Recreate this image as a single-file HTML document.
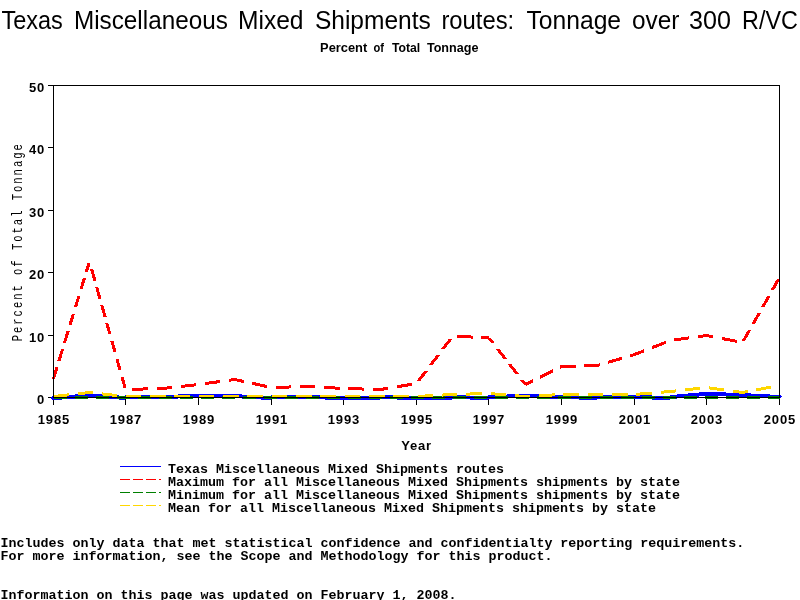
<!DOCTYPE html>
<html lang="en"><head><meta charset="utf-8"><title>Texas Miscellaneous Mixed Shipments routes: Tonnage over 300 R/VC</title>
<style>
html,body{margin:0;padding:0;background:#fff;}
body{width:800px;height:600px;overflow:hidden;}
svg{display:block;}
text{fill:#000;}
.title{font-family:"Liberation Sans",sans-serif;font-size:26.5px;}
.sub{font-family:"Liberation Sans",sans-serif;font-size:12px;font-weight:bold;}
.tick{font-family:"Liberation Sans",sans-serif;font-size:13px;font-weight:bold;}
.mono{font-family:"Liberation Mono",monospace;font-size:13.333px;font-weight:bold;}
.ylab{font-family:"Liberation Mono",monospace;font-size:14px;}
</style></head><body>
<svg width="800" height="600" viewBox="0 0 800 600">
<rect width="800" height="600" fill="#fff"/>
<text class="title" y="29"><tspan x="1.47" textLength="61.35" lengthAdjust="spacingAndGlyphs">Texas</tspan> <tspan x="73.98" textLength="153.85" lengthAdjust="spacingAndGlyphs">Miscellaneous</tspan> <tspan x="237.96" textLength="65.61" lengthAdjust="spacingAndGlyphs">Mixed</tspan> <tspan x="314.89" textLength="115.94" lengthAdjust="spacingAndGlyphs">Shipments</tspan> <tspan x="441.38" textLength="72.78" lengthAdjust="spacingAndGlyphs">routes:</tspan> <tspan x="526.44" textLength="94.65" lengthAdjust="spacingAndGlyphs">Tonnage</tspan> <tspan x="631.99" textLength="47.43" lengthAdjust="spacingAndGlyphs">over</tspan> <tspan x="689.05" textLength="41.91" lengthAdjust="spacingAndGlyphs">300</tspan> <tspan x="742.06" textLength="55.83" lengthAdjust="spacingAndGlyphs">R/VC</tspan></text>
<text class="sub" y="52"><tspan x="320.14" textLength="47.09" lengthAdjust="spacingAndGlyphs">Percent</tspan> <tspan x="373.54" textLength="10.49" lengthAdjust="spacingAndGlyphs">of</tspan> <tspan x="391.90" textLength="28.29" lengthAdjust="spacingAndGlyphs">Total</tspan> <tspan x="426.90" textLength="51.53" lengthAdjust="spacingAndGlyphs">Tonnage</tspan></text>
<g shape-rendering="crispEdges">
<path fill="none" stroke="#000" stroke-width="1" d="M48 397.5 H53 M48 335.5 H53 M48 272.5 H53 M48 210.5 H53 M48 147.5 H53 M48 85.5 H53 M53.5 398 V405 M125.5 398 V405 M198.5 398 V405 M271.5 398 V405 M343.5 398 V405 M416.5 398 V405 M488.5 398 V405 M561.5 398 V405 M634.5 398 V405 M706.5 398 V405 M779.5 398 V405 "/>
<path fill="#0000ff" d="M53.00 396.20 L89.00 393.45 L89.00 397.45 L53.00 400.20Z M89.00 393.45 L125.00 395.90 L125.00 399.90 L89.00 397.45Z M125.00 395.00 L162.00 395.00 L162.00 399.00 L125.00 399.00Z M162.00 395.00 L198.00 393.90 L198.00 397.90 L162.00 399.00Z M198.00 393.90 L234.00 393.90 L234.00 397.90 L198.00 397.90Z M234.00 394.06 L271.00 396.06 L271.00 400.06 L234.00 398.06Z M271.00 395.00 L307.00 395.00 L307.00 399.00 L271.00 399.00Z M307.00 395.00 L343.00 396.03 L343.00 400.03 L307.00 399.00Z M343.00 396.00 L380.00 396.00 L380.00 400.00 L343.00 400.00Z M380.00 395.00 L416.00 396.06 L416.00 400.06 L380.00 399.00Z M416.00 396.00 L452.00 396.00 L452.00 400.00 L416.00 400.00Z M452.00 395.00 L488.00 396.00 L488.00 400.00 L452.00 399.00Z M488.00 395.30 L525.00 393.74 L525.00 397.74 L488.00 399.30Z M525.00 394.00 L561.00 395.00 L561.00 399.00 L525.00 398.00Z M561.00 395.00 L597.00 396.00 L597.00 400.00 L561.00 399.00Z M597.00 395.00 L634.00 395.00 L634.00 399.00 L597.00 399.00Z M634.00 395.00 L670.00 396.00 L670.00 400.00 L634.00 399.00Z M670.00 395.10 L706.00 391.86 L706.00 395.86 L670.00 399.10Z M706.00 391.90 L742.00 393.00 L742.00 397.00 L706.00 395.90Z M742.00 393.00 L780.00 395.05 L780.00 399.05 L742.00 397.00Z M52.00 396.00 L53.00 396.00 L53.00 400.00 L52.00 400.00Z M51.00 397.00 L52.00 397.00 L52.00 399.00 L51.00 399.00Z M780.00 395.00 L781.00 395.00 L781.00 398.00 L780.00 398.00Z M781.00 396.00 L782.00 396.00 L782.00 397.00 L781.00 397.00Z"/>
<path fill="#ff0000" d="M51.93 378.50 L55.07 378.50 L58.57 367.13 L55.43 367.13Z M57.42 360.67 L60.55 360.67 L64.05 349.31 L60.91 349.31Z M62.90 342.84 L66.04 342.84 L69.54 331.48 L66.40 331.48Z M68.39 325.02 L71.53 325.02 L75.02 313.65 L71.88 313.65Z M73.87 307.19 L77.01 307.19 L80.51 295.82 L77.37 295.82Z M79.36 289.36 L82.50 289.36 L85.99 277.99 L82.86 277.99Z M84.84 271.53 L87.98 271.53 L91.07 261.50 L87.93 261.50Z M87.94 261.50 L91.06 261.50 L91.43 262.84 L88.32 262.84Z M90.14 269.33 L93.26 269.33 L96.47 280.74 L93.35 280.74Z M95.18 287.23 L98.30 287.23 L101.51 298.65 L98.39 298.65Z M100.21 305.13 L103.33 305.13 L106.54 316.55 L103.42 316.55Z M105.25 323.04 L108.37 323.04 L111.58 334.45 L108.46 334.45Z M110.28 340.94 L113.40 340.94 L116.61 352.36 L113.49 352.36Z M115.32 358.84 L118.44 358.84 L121.65 370.26 L118.53 370.26Z M120.36 376.75 L123.47 376.75 L126.68 388.16 L123.57 388.16Z M132.48 387.81 L147.95 387.39 L147.95 390.39 L132.48 390.81Z M156.74 387.16 L162.50 387.00 L162.50 390.00 L156.74 390.16Z M162.50 386.99 L172.12 385.92 L172.12 388.94 L162.50 390.01Z M180.82 384.95 L196.14 383.25 L196.14 386.27 L180.82 387.97Z M204.81 382.11 L220.03 380.00 L220.03 383.02 L204.81 385.14Z M228.68 378.79 L234.50 377.99 L234.50 381.01 L228.68 381.82Z M234.50 377.97 L243.69 379.95 L243.69 383.02 L234.50 381.03Z M252.15 381.78 L267.03 385.00 L267.03 388.07 L252.15 384.85Z M275.65 385.88 L291.12 385.45 L291.12 388.46 L275.65 388.89Z M299.91 385.21 L307.50 385.00 L307.50 388.00 L299.91 388.21Z M307.50 385.00 L315.37 385.43 L315.37 388.44 L307.50 388.00Z M324.14 385.92 L339.58 386.78 L339.58 389.78 L324.14 388.93Z M348.37 387.13 L363.84 387.55 L363.84 390.55 L348.37 390.13Z M372.63 387.79 L380.50 388.00 L380.50 391.00 L372.63 390.79Z M380.50 387.98 L387.93 386.74 L387.93 389.78 L380.50 391.02Z M396.52 385.31 L411.64 382.79 L411.64 385.83 L396.52 388.35Z M416.52 381.01 L420.30 381.01 L428.04 370.90 L424.26 370.90Z M428.66 365.16 L432.44 365.16 L440.18 355.05 L436.40 355.05Z M440.80 349.31 L444.58 349.31 L452.32 339.20 L448.54 339.20Z M457.15 335.13 L472.62 335.56 L472.62 338.56 L457.15 338.13Z M481.42 335.80 L488.50 336.00 L488.50 339.00 L481.42 338.80Z M486.59 337.50 L490.41 337.50 L494.69 342.94 L490.87 342.94Z M495.36 348.64 L499.18 348.64 L507.08 358.68 L503.26 358.68Z M507.75 364.38 L511.57 364.38 L519.47 374.42 L515.65 374.42Z M520.14 380.12 L523.96 380.12 L527.41 384.50 L523.59 384.50Z M525.50 382.82 L532.77 379.19 L532.77 382.54 L525.50 386.18Z M540.11 375.52 L553.01 369.07 L553.01 372.42 L540.11 378.87Z M560.34 365.40 L561.50 364.82 L561.50 368.18 L560.34 368.76Z M561.50 365.00 L575.58 364.61 L575.58 367.61 L561.50 368.00Z M584.37 364.36 L597.50 364.00 L597.50 367.00 L584.37 367.37Z M597.50 363.94 L599.68 363.29 L599.68 366.42 L597.50 367.06Z M607.86 360.85 L622.27 356.57 L622.27 359.70 L607.86 363.98Z M630.45 354.14 L634.50 352.94 L634.50 356.06 L630.45 357.27Z M634.50 352.89 L644.39 349.04 L644.39 352.26 L634.50 356.11Z M652.21 346.00 L665.97 340.65 L665.97 343.87 L652.21 349.22Z M674.14 338.48 L689.36 336.37 L689.36 339.39 L674.14 341.51Z M698.02 335.16 L706.50 333.99 L706.50 337.01 L698.02 338.19Z M706.50 333.97 L713.14 335.26 L713.14 338.32 L706.50 337.03Z M721.66 336.92 L736.65 339.83 L736.65 342.89 L721.66 339.98Z M741.86 340.59 L745.31 340.59 L751.42 329.87 L747.96 329.87Z M751.43 323.77 L754.89 323.77 L760.99 313.05 L757.54 313.05Z M761.01 306.96 L764.46 306.96 L770.56 296.23 L767.11 296.23Z M770.58 290.14 L774.03 290.14 L780.14 279.41 L776.68 279.41Z"/>
<path fill="#008000" d="M53.50 396.00 L66.50 396.00 L66.50 399.00 L53.50 399.00Z M74.50 396.00 L87.50 396.00 L87.50 399.00 L74.50 399.00Z M95.50 396.00 L108.50 396.00 L108.50 399.00 L95.50 399.00Z M116.50 396.00 L125.50 396.00 L125.50 399.00 L116.50 399.00Z M125.50 396.00 L129.50 396.00 L129.50 399.00 L125.50 399.00Z M137.50 396.00 L150.50 396.00 L150.50 399.00 L137.50 399.00Z M158.50 396.00 L162.50 396.00 L162.50 399.00 L158.50 399.00Z M162.50 396.00 L171.50 396.00 L171.50 399.00 L162.50 399.00Z M179.50 396.00 L192.50 396.00 L192.50 399.00 L179.50 399.00Z M200.50 396.00 L213.50 396.00 L213.50 399.00 L200.50 399.00Z M221.50 396.00 L234.50 396.00 L234.50 399.00 L221.50 399.00Z M242.50 396.00 L255.50 396.00 L255.50 399.00 L242.50 399.00Z M263.50 396.00 L271.50 396.00 L271.50 399.00 L263.50 399.00Z M271.50 396.00 L276.50 396.00 L276.50 399.00 L271.50 399.00Z M284.50 396.00 L297.50 396.00 L297.50 399.00 L284.50 399.00Z M305.50 396.00 L307.50 396.00 L307.50 399.00 L305.50 399.00Z M307.50 396.00 L318.50 396.00 L318.50 399.00 L307.50 399.00Z M326.50 396.00 L339.50 396.00 L339.50 399.00 L326.50 399.00Z M347.50 396.00 L360.50 396.00 L360.50 399.00 L347.50 399.00Z M368.50 396.00 L380.50 396.00 L380.50 399.00 L368.50 399.00Z M380.50 396.00 L381.50 396.00 L381.50 399.00 L380.50 399.00Z M389.50 396.00 L402.50 396.00 L402.50 399.00 L389.50 399.00Z M410.50 396.00 L416.50 396.00 L416.50 399.00 L410.50 399.00Z M416.50 396.00 L423.50 396.00 L423.50 399.00 L416.50 399.00Z M431.50 396.00 L444.50 396.00 L444.50 399.00 L431.50 399.00Z M452.50 396.00 L465.50 396.00 L465.50 399.00 L452.50 399.00Z M473.50 396.00 L486.50 396.00 L486.50 399.00 L473.50 399.00Z M494.50 396.00 L507.50 396.00 L507.50 399.00 L494.50 399.00Z M515.50 396.00 L525.50 396.00 L525.50 399.00 L515.50 399.00Z M525.50 396.00 L528.50 396.00 L528.50 399.00 L525.50 399.00Z M536.50 396.00 L549.50 396.00 L549.50 399.00 L536.50 399.00Z M557.50 396.00 L561.50 396.00 L561.50 399.00 L557.50 399.00Z M561.50 396.00 L570.50 396.00 L570.50 399.00 L561.50 399.00Z M578.50 396.00 L591.50 396.00 L591.50 399.00 L578.50 399.00Z M599.50 396.00 L612.50 396.00 L612.50 399.00 L599.50 399.00Z M620.50 396.00 L633.50 396.00 L633.50 399.00 L620.50 399.00Z M641.50 396.00 L654.50 396.00 L654.50 399.00 L641.50 399.00Z M662.50 396.00 L670.50 396.00 L670.50 399.00 L662.50 399.00Z M670.50 396.00 L675.50 396.00 L675.50 399.00 L670.50 399.00Z M683.50 396.00 L696.50 396.00 L696.50 399.00 L683.50 399.00Z M704.50 396.00 L706.50 396.00 L706.50 399.00 L704.50 399.00Z M706.50 396.00 L717.50 396.00 L717.50 399.00 L706.50 399.00Z M725.50 396.00 L738.50 396.00 L738.50 399.00 L725.50 399.00Z M746.50 396.00 L759.50 396.00 L759.50 399.00 L746.50 399.00Z M767.50 396.00 L779.50 396.00 L779.50 399.00 L767.50 399.00Z"/>
<path fill="#ffd700" d="M53.50 394.99 L68.81 393.29 L68.81 396.31 L53.50 398.01Z M77.58 392.32 L89.50 390.99 L89.50 394.01 L77.58 395.33Z M89.50 390.99 L92.89 391.37 L92.89 394.39 L89.50 394.01Z M101.65 392.34 L116.97 394.04 L116.97 397.06 L101.65 395.36Z M125.73 395.00 L141.21 395.00 L141.21 398.00 L125.73 398.00Z M150.07 395.00 L162.50 395.00 L162.50 398.00 L150.07 398.00Z M162.50 395.00 L165.55 395.00 L165.55 398.00 L162.50 398.00Z M174.40 395.00 L189.88 395.00 L189.88 398.00 L174.40 398.00Z M198.74 395.00 L214.22 395.00 L214.22 398.00 L198.74 398.00Z M223.07 395.00 L234.50 395.00 L234.50 398.00 L223.07 398.00Z M234.50 395.00 L238.55 395.00 L238.55 398.00 L234.50 398.00Z M247.41 395.00 L262.89 395.00 L262.89 398.00 L247.41 398.00Z M271.75 395.00 L287.23 395.00 L287.23 398.00 L271.75 398.00Z M296.08 395.00 L307.50 395.00 L307.50 398.00 L296.08 398.00Z M307.50 395.00 L311.56 395.00 L311.56 398.00 L307.50 398.00Z M320.42 395.00 L335.90 395.00 L335.90 398.00 L320.42 398.00Z M344.75 395.00 L360.23 395.00 L360.23 398.00 L344.75 398.00Z M369.09 395.00 L380.50 395.00 L380.50 398.00 L369.09 398.00Z M380.50 395.00 L384.57 395.00 L384.57 398.00 L380.50 398.00Z M393.43 395.00 L408.91 395.00 L408.91 398.00 L393.43 398.00Z M417.76 394.93 L433.20 394.07 L433.20 397.07 L417.76 397.93Z M442.03 393.58 L452.50 393.00 L452.50 396.00 L442.03 396.58Z M452.50 393.00 L457.48 392.86 L457.48 395.86 L452.50 396.00Z M466.33 392.62 L481.80 392.19 L481.80 395.19 L466.33 395.62Z M490.64 392.17 L506.03 393.42 L506.03 396.43 L490.64 395.18Z M514.83 394.13 L525.50 395.00 L525.50 398.00 L514.83 397.14Z M525.50 395.00 L530.24 394.73 L530.24 397.74 L525.50 398.00Z M539.07 394.24 L554.51 393.39 L554.51 396.39 L539.07 397.25Z M563.34 393.00 L578.82 393.00 L578.82 396.00 L563.34 396.00Z M587.68 393.00 L597.50 393.00 L597.50 396.00 L587.68 396.00Z M597.50 393.00 L603.16 393.00 L603.16 396.00 L597.50 396.00Z M612.02 393.00 L627.50 393.00 L627.50 396.00 L612.02 396.00Z M636.34 392.84 L651.73 391.56 L651.73 394.57 L636.34 395.85Z M660.53 390.83 L670.50 389.99 L670.50 393.01 L660.53 393.84Z M670.50 389.99 L675.89 389.39 L675.89 392.41 L670.50 393.01Z M684.65 388.42 L699.97 386.72 L699.97 389.74 L684.65 391.44Z M708.72 386.29 L723.94 388.41 L723.94 391.44 L708.72 389.32Z M732.65 389.62 L742.50 390.99 L742.50 394.01 L732.65 392.65Z M742.50 390.97 L747.80 389.97 L747.80 393.02 L742.50 394.03Z M756.39 388.35 L771.40 385.51 L771.40 388.56 L756.39 391.40Z"/>
<path fill="none" stroke="#000" stroke-width="1" d="M53.5 85.5 H779.5 V397.5 H53.5 Z"/>
<path fill="none" stroke="#0000ff" d="M120 466.5 H161"/>
<path fill="none" stroke="#ff0000" stroke-dasharray="10 3" d="M120 479.5 H161"/>
<path fill="none" stroke="#008000" stroke-dasharray="10 3" d="M120 492.5 H161"/>
<path fill="none" stroke="#ffd700" stroke-dasharray="10 3" d="M120 505.5 H161"/>
</g>
<text class="tick" x="45" y="404" text-anchor="end" letter-spacing="0.8">0</text>
<text class="tick" x="45" y="342" text-anchor="end" letter-spacing="0.8">10</text>
<text class="tick" x="45" y="279" text-anchor="end" letter-spacing="0.8">20</text>
<text class="tick" x="45" y="217" text-anchor="end" letter-spacing="0.8">30</text>
<text class="tick" x="45" y="154" text-anchor="end" letter-spacing="0.8">40</text>
<text class="tick" x="45" y="92" text-anchor="end" letter-spacing="0.8">50</text>
<text class="tick" x="53.9" y="424" text-anchor="middle" letter-spacing="0.8">1985</text>
<text class="tick" x="125.9" y="424" text-anchor="middle" letter-spacing="0.8">1987</text>
<text class="tick" x="198.9" y="424" text-anchor="middle" letter-spacing="0.8">1989</text>
<text class="tick" x="271.9" y="424" text-anchor="middle" letter-spacing="0.8">1991</text>
<text class="tick" x="343.9" y="424" text-anchor="middle" letter-spacing="0.8">1993</text>
<text class="tick" x="416.9" y="424" text-anchor="middle" letter-spacing="0.8">1995</text>
<text class="tick" x="488.9" y="424" text-anchor="middle" letter-spacing="0.8">1997</text>
<text class="tick" x="561.9" y="424" text-anchor="middle" letter-spacing="0.8">1999</text>
<text class="tick" x="634.9" y="424" text-anchor="middle" letter-spacing="0.8">2001</text>
<text class="tick" x="706.9" y="424" text-anchor="middle" letter-spacing="0.8">2003</text>
<text class="tick" x="779.9" y="424" text-anchor="middle" letter-spacing="0.8">2005</text>
<text class="tick" x="416.5" y="450" text-anchor="middle" letter-spacing="0.8">Year</text>
<text class="ylab" transform="translate(22 341.3) rotate(-90) scale(0.75 1)" letter-spacing="2.67">Percent of Total Tonnage</text>
<text class="mono" x="168" y="473" xml:space="preserve">Texas Miscellaneous Mixed Shipments routes</text>
<text class="mono" x="168" y="486" xml:space="preserve">Maximum for all Miscellaneous Mixed Shipments shipments by state</text>
<text class="mono" x="168" y="499" xml:space="preserve">Minimum for all Miscellaneous Mixed Shipments shipments by state</text>
<text class="mono" x="168" y="512" xml:space="preserve">Mean for all Miscellaneous Mixed Shipments shipments by state</text>
<text class="mono" x="0.5" y="547" xml:space="preserve">Includes only data that met statistical confidence and confidentialty reporting requirements.</text>
<text class="mono" x="0.5" y="560" xml:space="preserve">For more information, see the Scope and Methodology for this product.</text>
<text class="mono" x="0.5" y="599" xml:space="preserve">Information on this page was updated on February 1, 2008.</text>
</svg></body></html>
